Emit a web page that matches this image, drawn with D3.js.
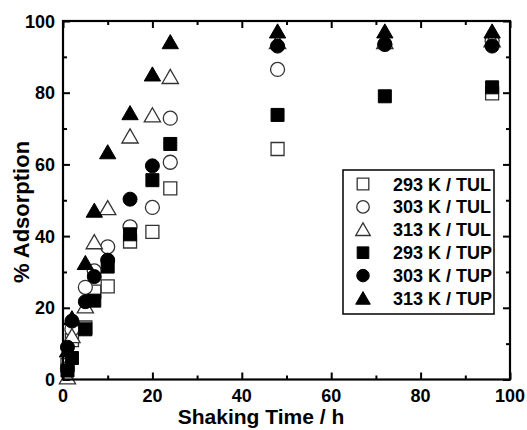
<!DOCTYPE html>
<html>
  <head>
    <meta charset="UTF-8" />
    <script src="https://cdnjs.cloudflare.com/ajax/libs/d3/7.8.5/d3.min.js"></script>
    <style>
      body { margin: 0; background: #fff; }
      text { font-family: "Liberation Sans", Arial, sans-serif; font-weight: bold; fill: #000; }
      .frame { fill: none; stroke: #000; stroke-width: 2.2; }
      .tick line { stroke: #000; stroke-width: 2; }
      .open { fill: #fff; stroke: #333; stroke-width: 1.3; }
      .filled { fill: #000; stroke: #000; stroke-width: 1; }
    </style>
  </head>
  <body>
    <svg width="527" height="430"></svg>
    <script>
      // values
      var labels = ["293 K / TUL", "303 K / TUL", "313 K / TUL", "293 K / TUP", "303 K / TUP", "313 K / TUP"];

      var t293TUL = [1, 2, 5, 7, 10, 15, 20, 24, 48, 96];
      var y293TUL = [4, 11, 14.5, 24.5, 26, 38.5, 41.2, 53.3, 64.3, 79.8];

      var t303TUL = [1, 2, 5, 7, 10, 15, 20, 24, 24, 48, 72, 96];
      var y303TUL = [3, 14, 25.7, 30.3, 37, 42.6, 48, 60.6, 72.9, 86.5, 93.5, 94.5];

      var t313TUL = [1, 2, 5, 7, 10, 15, 20, 24, 48, 72, 96];
      var y313TUL = [0.5, 12, 20.3, 38.2, 47.7, 67.7, 73.6, 84.3, 94, 94, 94.5];

      var t293TUP = [1, 2, 5, 7, 10, 15, 20, 24, 48, 72, 96];
      var y293TUP = [2.5, 6, 14, 22, 31.5, 40.5, 55.6, 65.7, 73.8, 79, 81.5];

      var t303TUP = [1, 2, 5, 7, 10, 15, 20, 48, 72, 96];
      var y303TUP = [9, 16.3, 21.7, 28.7, 33.3, 50.3, 59.6, 93, 93.5, 93];

      var t313TUP = [1, 2, 5, 7, 10, 15, 20, 24, 48, 72, 96];
      var y313TUP = [8, 17, 32.4, 47, 63.3, 74.2, 85, 94, 97, 97, 97];

      var xTicks = [0, 20, 40, 60, 80, 100];
      var yTicks = [0, 20, 40, 60, 80, 100];

      var series = [
        { name: labels[0], t: t293TUL, v: y293TUL, shape: d3.symbolSquare, size: 169, cls: "open" },
        { name: labels[1], t: t303TUL, v: y303TUL, shape: d3.symbolCircle, size: 154, cls: "open" },
        { name: labels[2], t: t313TUL, v: y313TUL, shape: d3.symbolTriangle, size: 115, cls: "open" },
        { name: labels[3], t: t293TUP, v: y293TUP, shape: d3.symbolSquare, size: 169, cls: "filled" },
        { name: labels[4], t: t303TUP, v: y303TUP, shape: d3.symbolCircle, size: 154, cls: "filled" },
        { name: labels[5], t: t313TUP, v: y313TUP, shape: d3.symbolTriangle, size: 115, cls: "filled" }
      ];

      var pLeft = 63, pRight = 510, pTop = 21, pBottom = 379.5;
      var svg = d3.select("svg");

      var x = d3.scaleLinear().domain([0, 100]).range([pLeft, pRight]);
      var y = d3.scaleLinear().domain([0, 100]).range([pBottom, pTop]);

      // points first, so the frame sits on top
      var pts = svg.append("g");
      series.forEach(function (s) {
        var sym = d3.symbol().type(s.shape).size(s.size);
        pts.selectAll(null)
          .data(s.t.map(function (t, i) { return [t, s.v[i]]; }))
          .enter()
          .append("path")
          .attr("class", s.cls)
          .attr("d", sym)
          .attr("transform", function (d) {
            var dy = s.shape === d3.symbolTriangle ? 1.5 : 0;
            return "translate(" + x(d[0]) + "," + (y(d[1]) + dy) + ")";
          });
      });

      // inward ticks on all four sides
      var minor = d3.range(0, 101, 10);
      function tickLen(v) { return v % 20 === 0 ? 7 : 4; }

      svg.append("g").attr("transform", "translate(0," + pBottom + ")")
        .call(d3.axisBottom(x).tickValues(minor).tickSize(0).tickFormat(""))
        .call(g => g.select(".domain").remove())
        .call(g => g.selectAll(".tick line").attr("y2", d => -tickLen(d)));
      svg.append("g").attr("transform", "translate(0," + pTop + ")")
        .call(d3.axisTop(x).tickValues(minor).tickSize(0).tickFormat(""))
        .call(g => g.select(".domain").remove())
        .call(g => g.selectAll(".tick line").attr("y2", d => tickLen(d)));
      svg.append("g").attr("transform", "translate(" + pLeft + ",0)")
        .call(d3.axisLeft(y).tickValues(minor).tickSize(0).tickFormat(""))
        .call(g => g.select(".domain").remove())
        .call(g => g.selectAll(".tick line").attr("x2", d => tickLen(d)));
      svg.append("g").attr("transform", "translate(" + pRight + ",0)")
        .call(d3.axisRight(y).tickValues(minor).tickSize(0).tickFormat(""))
        .call(g => g.select(".domain").remove())
        .call(g => g.selectAll(".tick line").attr("x2", d => -tickLen(d)));

      svg.append("rect").attr("class", "frame")
        .attr("x", pLeft).attr("y", pTop)
        .attr("width", pRight - pLeft).attr("height", pBottom - pTop);

      // tick labels
      svg.append("g").selectAll("text").data(xTicks).enter().append("text")
        .attr("x", d => x(d)).attr("y", pBottom + 22)
        .attr("text-anchor", "middle").style("font-size", "18px")
        .text(d => d);
      svg.append("g").selectAll("text").data(yTicks).enter().append("text")
        .attr("x", pLeft - 8).attr("y", d => y(d) + 6.5)
        .attr("text-anchor", "end").style("font-size", "18px")
        .text(d => d);

      svg.append("text").attr("x", 261).attr("y", 424)
        .attr("text-anchor", "middle").style("font-size", "21px")
        .text("Shaking Time / h");
      svg.append("text")
        .attr("transform", "translate(29,212) rotate(-90)")
        .attr("text-anchor", "middle").style("font-size", "22px")
        .text("% Adsorption");

      // legend
      var lg = svg.append("g");
      lg.append("rect").attr("x", 343).attr("y", 170).attr("width", 151).attr("height", 144)
        .attr("fill", "#fff").attr("stroke", "#000").attr("stroke-width", 1.5);
      series.forEach(function (s, i) {
        var ry = 184 + i * 22.9;
        var sym = d3.symbol().type(s.shape).size(s.size * 0.8);
        lg.append("path").attr("class", s.cls).attr("d", sym)
          .attr("transform", "translate(363," + (ry + (s.shape === d3.symbolTriangle ? 1.5 : 0)) + ")");
        lg.append("text").attr("x", 393).attr("y", ry + 6.5)
          .style("font-size", "18px").text(s.name);
      });
    </script>
  </body>
</html>
